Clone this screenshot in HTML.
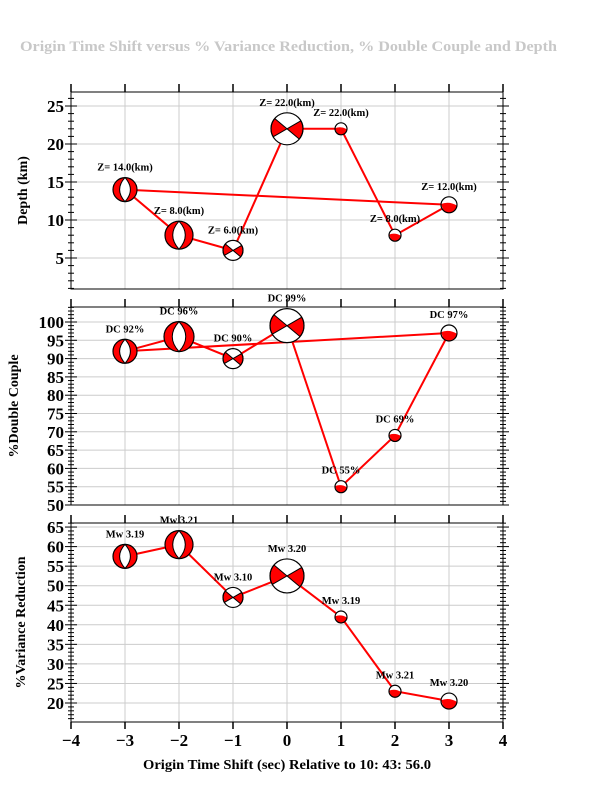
<!DOCTYPE html>
<html><head><meta charset="utf-8"><style>
html,body{margin:0;padding:0;background:#fff}
svg{display:block}
text{font-family:"Liberation Serif",serif;font-weight:bold}
</style></head><body>
<svg id="s" width="612" height="792" xmlns="http://www.w3.org/2000/svg"></svg>
<script>
const S=document.getElementById('s');let h='';
const X=v=>287+54*v;
const L=71,R=503;
h+='<text x="20" y="51" font-size="15" fill="#c8c8c8" textLength="537" lengthAdjust="spacingAndGlyphs">Origin Time Shift versus % Variance Reduction, % Double Couple and Depth</text>';
const P=[
 {t:92,b:289,y0:258,v0:5,k:7.6,labs:[5,10,15,20,25],lo:1,hi:27,title:'Depth (km)',tx:27},
 {t:307,b:505,y0:505,v0:50,k:3.66,labs:[50,55,60,65,70,75,80,85,90,95,100],lo:50,hi:104,title:'%Double Couple',tx:18},
 {t:523,b:722,y0:703,v0:20,k:3.91,labs:[20,25,30,35,40,45,50,55,60,65],lo:15,hi:66,title:'%Variance Reduction',tx:25}
];
P.forEach(p=>{p.Y=v=>p.y0-(v-p.v0)*p.k;});
P.forEach((p,i)=>{
 for(let v=-3;v<=3;v++)h+=`<line x1="${X(v)}" x2="${X(v)}" y1="${p.t}" y2="${p.b}" stroke="#ccc" stroke-width="1"/>`;
 p.labs.forEach(v=>{const y=p.Y(v);if(y>p.t&&y<p.b)h+=`<line x1="${L}" x2="${R}" y1="${y}" y2="${y}" stroke="#ccc" stroke-width="1"/>`;});
 h+=`<rect x="${L}" y="${p.t}" width="${R-L}" height="${p.b-p.t}" fill="none" stroke="#000" stroke-width="1"/>`;
 for(let v=Math.ceil(p.lo);v<=p.hi;v++){const y=p.Y(v);if(y<p.t||y>p.b)continue;const maj=p.labs.includes(v);const l=maj?6:3;
  h+=`<line x1="${L-l}" x2="${L+l}" y1="${y}" y2="${y}" stroke="#000" stroke-width="1"/><line x1="${R-l}" x2="${R+l}" y1="${y}" y2="${y}" stroke="#000" stroke-width="1"/>`;}
 p.labs.forEach(v=>{const y=p.Y(v);if(y>=p.t-2&&y<=p.b+2)h+=`<text x="64" y="${y+6}" font-size="17" text-anchor="end">${v}</text>`;});
 for(let v=-4;v<=4;v++)h+=`<line x1="${X(v)}" x2="${X(v)}" y1="${p.t-8}" y2="${p.t}" stroke="#000" stroke-width="1.5"/>`;
 h+=`<text transform="translate(${p.tx},${(p.t+p.b)/2}) rotate(-90)" font-size="14" text-anchor="middle">${p.title}</text>`;
});
for(let v=-4;v<=4;v++){h+=`<line x1="${X(v)}" x2="${X(v)}" y1="722" y2="729" stroke="#000" stroke-width="1.5"/>`;
 h+=`<text x="${X(v)}" y="746" font-size="17" text-anchor="middle">${v<0?'\u2212'+(-v):v}</text>`;}
h+='<text x="143" y="769" font-size="14" textLength="288" lengthAdjust="spacingAndGlyphs">Origin Time Shift (sec) Relative to 10: 43: 56.0</text>';

function ball(cx,cy,r,type){
 let s='';
 if(type=='lens'){
  s+=`<circle cx="${cx}" cy="${cy}" r="${r}" fill="red"/>`;
  s+=`<path d="M${cx},${cy-r} Q${cx-r*0.9},${cy} ${cx},${cy+r} Q${cx+r*0.9},${cy} ${cx},${cy-r}Z" fill="#fff" stroke="#000" stroke-width="1"/>`;
 }else if(type=='quad'){
  s+=`<circle cx="${cx}" cy="${cy}" r="${r}" fill="#fff"/>`;
  const p=(a)=>[cx+r*Math.cos(a*Math.PI/180),cy+r*Math.sin(a*Math.PI/180)];
  const [a1x,a1y]=p(-140),[a2x,a2y]=p(150),[b1x,b1y]=p(-30),[b2x,b2y]=p(40);
  s+=`<path d="M${a1x},${a1y} L${cx},${cy} L${a2x},${a2y} A${r},${r} 0 0 1 ${a1x},${a1y}Z" fill="red" stroke="#000" stroke-width="1"/>`;
  s+=`<path d="M${b1x},${b1y} L${cx},${cy} L${b2x},${b2y} A${r},${r} 0 0 0 ${b1x},${b1y}Z" fill="red" stroke="#000" stroke-width="1"/>`;
 }else{
  s+=`<circle cx="${cx}" cy="${cy}" r="${r}" fill="#fff"/>`;
  s+=`<path d="M${cx-r},${cy-r*0.1} Q${cx},${cy-r*0.5} ${cx+r},${cy+r*0.1} A${r},${r} 0 0 1 ${cx-r*0.7},${cy+r*0.7}Z" fill="red"/>`;
 }
 s+=`<circle cx="${cx}" cy="${cy}" r="${r}" fill="none" stroke="#000" stroke-width="1.2"/>`;
 return s;
}
const xs=[-3,-2,-1,0,1,2,3];
const types=['lens','lens','quad','quad','half','half','half'];
const D=[
 {v:[14,8,6,22,22,8,12],r:[12,14,10,16,6,6,8],lab:v=>`Z= ${v.toFixed(1)}(km)`,extra:[0,6]},
 {v:[92,96,90,99,55,69,97],r:[12,15,10,17,6,6,8],lab:v=>`DC ${v}%`,extra:[0,6]},
 {v:[57.5,60.5,47,52.5,42,23,20.5],r:[12,14,10,17,6,6,8],lab:(v,i)=>'Mw '+['3.19','3.21','3.10','3.20','3.19','3.21','3.20'][i],extra:null}
];
D.forEach((d,pi)=>{const p=P[pi];
 let pts=xs.map((x,i)=>X(x)+','+p.Y(d.v[i])).join(' ');
 h+=`<polyline points="${pts}" fill="none" stroke="red" stroke-width="2"/>`;
 if(d.extra){const a=d.extra[0],b=d.extra[1];h+=`<line x1="${X(xs[a])}" y1="${p.Y(d.v[a])}" x2="${X(xs[b])}" y2="${p.Y(d.v[b])}" stroke="red" stroke-width="2"/>`;}
 xs.forEach((x,i)=>{const cx=X(x),cy=p.Y(d.v[i]);h+=ball(cx,cy,d.r[i],types[i]);
  h+=`<text x="${cx}" y="${cy-d.r[i]-7}" font-size="10.5" text-anchor="middle">${d.lab(d.v[i],i)}</text>`;});
});
S.innerHTML=h;
</script>
</body></html>
